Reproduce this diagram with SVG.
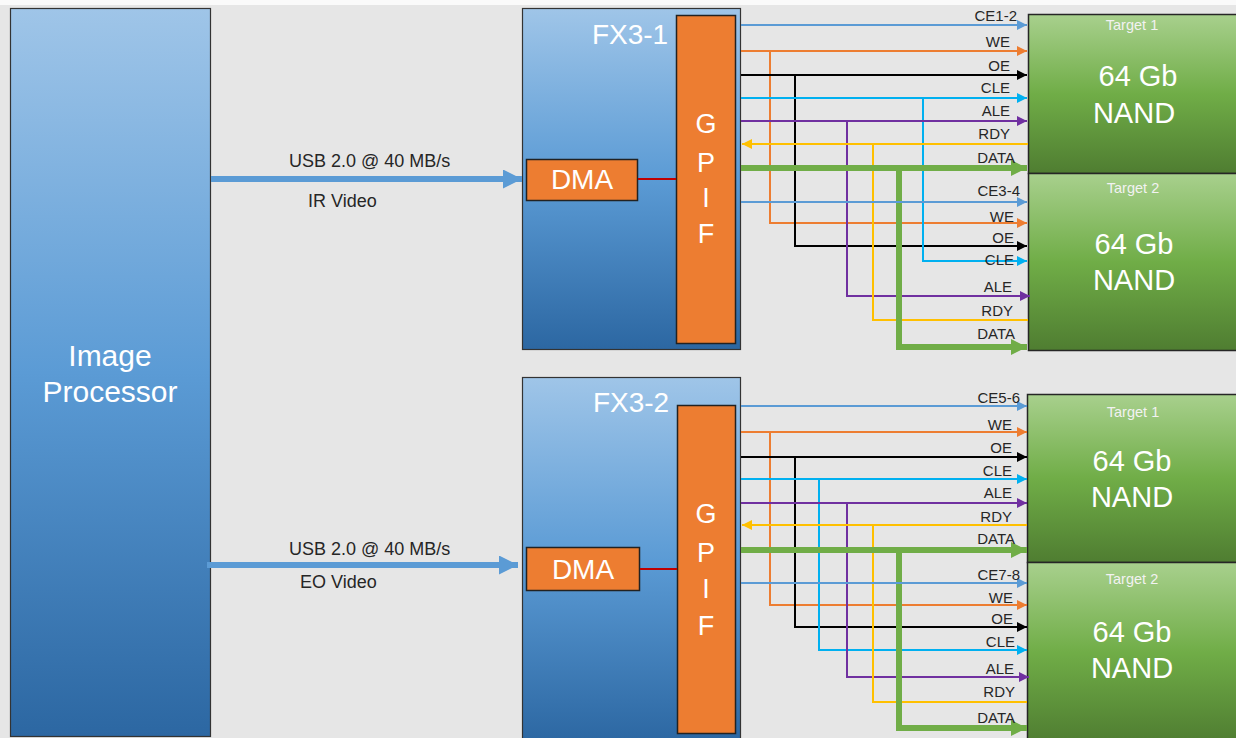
<svg xmlns="http://www.w3.org/2000/svg" width="1236" height="738" viewBox="0 0 1236 738">
<defs>
<linearGradient id="gBlue" x1="0" y1="0" x2="0" y2="1">
<stop offset="0" stop-color="#9fc5e8"/>
<stop offset="0.5" stop-color="#5b9bd5"/>
<stop offset="1" stop-color="#2c67a2"/>
</linearGradient>
<linearGradient id="gGreen" x1="0" y1="0" x2="0" y2="1">
<stop offset="0" stop-color="#a8d08d"/>
<stop offset="0.5" stop-color="#70ad47"/>
<stop offset="1" stop-color="#4f7d31"/>
</linearGradient>
<marker id="mBlue" viewBox="0 0 10 10" refX="10" refY="5" markerWidth="11" markerHeight="10" markerUnits="userSpaceOnUse" orient="auto"><path d="M0,0 L10,5 L0,10 z" fill="#5b9bd5"/></marker>
<marker id="mOrange" viewBox="0 0 10 10" refX="10" refY="5" markerWidth="11" markerHeight="10" markerUnits="userSpaceOnUse" orient="auto"><path d="M0,0 L10,5 L0,10 z" fill="#ed7d31"/></marker>
<marker id="mBlack" viewBox="0 0 10 10" refX="10" refY="5" markerWidth="11" markerHeight="10" markerUnits="userSpaceOnUse" orient="auto"><path d="M0,0 L10,5 L0,10 z" fill="#000"/></marker>
<marker id="mCyan" viewBox="0 0 10 10" refX="10" refY="5" markerWidth="11" markerHeight="10" markerUnits="userSpaceOnUse" orient="auto"><path d="M0,0 L10,5 L0,10 z" fill="#00b0f0"/></marker>
<marker id="mPurple" viewBox="0 0 10 10" refX="10" refY="5" markerWidth="11" markerHeight="10" markerUnits="userSpaceOnUse" orient="auto"><path d="M0,0 L10,5 L0,10 z" fill="#7030a0"/></marker>
<marker id="mYellow" viewBox="0 0 10 10" refX="10" refY="5" markerWidth="11" markerHeight="10" markerUnits="userSpaceOnUse" orient="auto"><path d="M0,0 L10,5 L0,10 z" fill="#ffc000"/></marker>
<marker id="mGreen" viewBox="0 0 10 10" refX="10" refY="5" markerWidth="17" markerHeight="16" markerUnits="userSpaceOnUse" orient="auto"><path d="M0,0 L10,5 L0,10 z" fill="#70ad47"/></marker>
<marker id="mUsb" viewBox="0 0 10 10" refX="10" refY="5" markerWidth="20" markerHeight="19" markerUnits="userSpaceOnUse" orient="auto"><path d="M0,0 L10,5 L0,10 z" fill="#5b9bd5"/></marker>
</defs>
<style>
.box{fill:url(#gBlue);stroke:#333;stroke-width:1.2}
.nand{fill:url(#gGreen);stroke:#262626;stroke-width:1.5}
.or{fill:#ed7d31;stroke:#222;stroke-width:1.5}
.wt{fill:#fff;font-family:"Liberation Sans",Arial,sans-serif;text-anchor:middle}
.tg{fill:#f2f2f2;font-family:"Liberation Sans",Arial,sans-serif;text-anchor:middle;font-size:14.5px}
.big{font-size:29px}
.lbl{fill:#262626;font-family:"Liberation Sans",Arial,sans-serif;font-size:15px;text-anchor:end}
.usbl{fill:#262626;font-family:"Liberation Sans",Arial,sans-serif;font-size:18px}
.s{fill:none;stroke-width:2}
.b{stroke:#5b9bd5}.o{stroke:#ed7d31}.k{stroke:#000}.c{stroke:#00b0f0}.p{stroke:#7030a0}.y{stroke:#ffc000}
.d{fill:none;stroke:#70ad47;stroke-width:6}
.dma{stroke:#c00000;stroke-width:2}
.usb{fill:none;stroke:#5b9bd5;stroke-width:6}
</style>
<rect x="0" y="0" width="1236" height="738" fill="#e6e6e6"/>
<rect x="0" y="0" width="1236" height="5" fill="#fafafa"/>

<g id="image-processor">
<rect class="box" x="10.5" y="8.5" width="200" height="728"/>
<text class="wt" x="110" y="366" font-size="30">Image</text>
<text class="wt" x="110" y="402" font-size="30">Processor</text>
</g>

<g id="fx3-1">
<rect class="box" x="522.5" y="8.5" width="218" height="341"/>
<text class="wt" x="630" y="44" font-size="28">FX3-1</text>
<rect class="or" x="676.5" y="15.5" width="59" height="328"/>
<text class="wt" x="706" y="133" font-size="27">G</text>
<text class="wt" x="706" y="172" font-size="27">P</text>
<text class="wt" x="706" y="207" font-size="27">I</text>
<text class="wt" x="706" y="243" font-size="27">F</text>
</g>
<g id="dma-1">
<rect class="or" x="526.5" y="159.5" width="111" height="41"/>
<text class="wt" x="582" y="189" font-size="28">DMA</text>
</g>

<g id="fx3-2">
<rect class="box" x="522.5" y="377.5" width="218" height="365"/>
<text class="wt" x="631" y="412" font-size="28">FX3-2</text>
<rect class="or" x="677.5" y="405.5" width="58" height="328"/>
<text class="wt" x="706" y="523" font-size="27">G</text>
<text class="wt" x="706" y="562" font-size="27">P</text>
<text class="wt" x="706" y="598" font-size="27">I</text>
<text class="wt" x="706" y="635" font-size="27">F</text>
</g>
<g id="dma-2">
<rect class="or" x="526.5" y="547.5" width="113" height="43"/>
<text class="wt" x="583" y="579" font-size="28">DMA</text>
</g>

<g id="nand-1-t1">
<rect class="nand" x="1028.5" y="14.5" width="220" height="159"/>
<text class="tg" x="1132" y="30">Target 1</text>
<text class="wt big" x="1138" y="86">64 Gb</text>
<text class="wt big" x="1134" y="123">NAND</text>
</g>
<g id="nand-1-t2">
<rect class="nand" x="1028.5" y="173.5" width="220" height="177"/>
<text class="tg" x="1133" y="193">Target 2</text>
<text class="wt big" x="1134" y="254">64 Gb</text>
<text class="wt big" x="1134" y="290">NAND</text>
</g>
<g id="nand-2-t1">
<rect class="nand" x="1027.5" y="394.5" width="220" height="168"/>
<text class="tg" x="1133" y="417">Target 1</text>
<text class="wt big" x="1132" y="471">64 Gb</text>
<text class="wt big" x="1132" y="507">NAND</text>
</g>
<g id="nand-2-t2">
<rect class="nand" x="1027.5" y="562.5" width="220" height="180"/>
<text class="tg" x="1132" y="584">Target 2</text>
<text class="wt big" x="1132" y="642">64 Gb</text>
<text class="wt big" x="1132" y="678">NAND</text>
</g>

<g id="connectors">
<path class="usb" d="M211,179 H522" marker-end="url(#mUsb)"/>
<path class="usb" d="M207,565 H518" marker-end="url(#mUsb)"/>
<line class="dma" x1="638" y1="179" x2="676" y2="179"/>
<line class="dma" x1="640" y1="569" x2="677" y2="569"/>

<path class="s b" d="M741,25 H1027" marker-end="url(#mBlue)"/>
<path class="s o" d="M741,51 H1027" marker-end="url(#mOrange)"/>
<path class="s o" d="M770,51 V223 H1027" marker-end="url(#mOrange)"/>
<path class="s k" d="M741,75 H1027" marker-end="url(#mBlack)"/>
<path class="s k" d="M795,75 V246 H1027" marker-end="url(#mBlack)"/>
<path class="s c" d="M741,98 H1027" marker-end="url(#mCyan)"/>
<path class="s c" d="M923,98 V261 H1027" marker-end="url(#mCyan)"/>
<path class="s p" d="M741,121 H1027" marker-end="url(#mPurple)"/>
<path class="s p" d="M847,121 V296 H1030" marker-end="url(#mPurple)"/>
<path class="s y" d="M1028,144 H742" marker-end="url(#mYellow)"/>
<path class="s y" d="M873,144 V320 H1028"/>
<path class="d" d="M741,168 H1027" marker-end="url(#mGreen)"/>
<path class="d" d="M899,168 V347 H1027" marker-end="url(#mGreen)"/>
<path class="s b" d="M741,202 H1027" marker-end="url(#mBlue)"/>

<path class="s b" d="M741,406 H1027" marker-end="url(#mBlue)"/>
<path class="s o" d="M741,432 H1027" marker-end="url(#mOrange)"/>
<path class="s o" d="M770,432 V605 H1027" marker-end="url(#mOrange)"/>
<path class="s k" d="M741,457 H1027" marker-end="url(#mBlack)"/>
<path class="s k" d="M795,457 V627 H1027" marker-end="url(#mBlack)"/>
<path class="s c" d="M741,479 H1027" marker-end="url(#mCyan)"/>
<path class="s c" d="M819,479 V650 H1027" marker-end="url(#mCyan)"/>
<path class="s p" d="M741,503 H1027" marker-end="url(#mPurple)"/>
<path class="s p" d="M847,503 V677 H1029" marker-end="url(#mPurple)"/>
<path class="s y" d="M1027,525 H742" marker-end="url(#mYellow)"/>
<path class="s y" d="M873,525 V702 H1027"/>
<path class="d" d="M741,550 H1027" marker-end="url(#mGreen)"/>
<path class="d" d="M899,550 V728 H1027" marker-end="url(#mGreen)"/>
<path class="s b" d="M741,583 H1027" marker-end="url(#mBlue)"/>
</g>

<g id="labels">
<text class="usbl" x="289" y="167">USB 2.0 @ 40 MB/s</text>
<text class="usbl" x="308" y="207">IR Video</text>
<text class="usbl" x="289" y="555">USB 2.0 @ 40 MB/s</text>
<text class="usbl" x="300" y="588">EO Video</text>

<text class="lbl" x="1017" y="21">CE1-2</text>
<text class="lbl" x="1010" y="47">WE</text>
<text class="lbl" x="1010" y="71">OE</text>
<text class="lbl" x="1010" y="93">CLE</text>
<text class="lbl" x="1010" y="116">ALE</text>
<text class="lbl" x="1010" y="139">RDY</text>
<text class="lbl" x="1015" y="163">DATA</text>
<text class="lbl" x="1020" y="196">CE3-4</text>
<text class="lbl" x="1014" y="222">WE</text>
<text class="lbl" x="1014" y="243">OE</text>
<text class="lbl" x="1014" y="265">CLE</text>
<text class="lbl" x="1012" y="292">ALE</text>
<text class="lbl" x="1013" y="316">RDY</text>
<text class="lbl" x="1015" y="339">DATA</text>

<text class="lbl" x="1020" y="403">CE5-6</text>
<text class="lbl" x="1012" y="430">WE</text>
<text class="lbl" x="1012" y="453">OE</text>
<text class="lbl" x="1012" y="476">CLE</text>
<text class="lbl" x="1012" y="498">ALE</text>
<text class="lbl" x="1012" y="522">RDY</text>
<text class="lbl" x="1015" y="544">DATA</text>
<text class="lbl" x="1020" y="580">CE7-8</text>
<text class="lbl" x="1013" y="603">WE</text>
<text class="lbl" x="1013" y="624">OE</text>
<text class="lbl" x="1015" y="647">CLE</text>
<text class="lbl" x="1014" y="674">ALE</text>
<text class="lbl" x="1015" y="697">RDY</text>
<text class="lbl" x="1015" y="723">DATA</text>
</g>
</svg>
